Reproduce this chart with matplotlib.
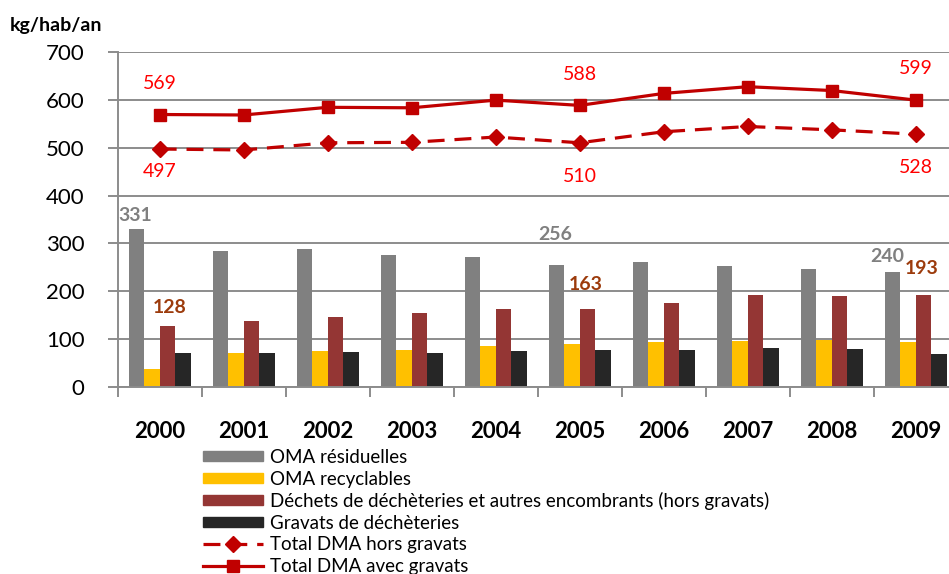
import matplotlib
matplotlib.use("Agg")
import matplotlib.pyplot as plt
from matplotlib.patches import Patch
from matplotlib.lines import Line2D
import numpy as np

plt.rcParams['font.family'] = ['Lato', 'DejaVu Sans']

# data
years = ['2000', '2001', '2002', '2003', '2004', '2005', '2006', '2007', '2008', '2009']
oma_residuelles = [331, 284, 288, 276, 271, 256, 261, 253, 246, 240]
oma_recyclables = [38, 71, 76, 78, 86, 90, 94, 96, 98, 94]
dechets_decheteries = [128, 138, 146, 155, 163, 163, 175, 192, 190, 193]
gravats = [71, 71, 73, 71, 76, 78, 78, 82, 80, 70]
total_hors_gravats = [497, 495, 510, 511, 522, 510, 533, 544, 537, 528]
total_avec_gravats = [569, 568, 584, 583, 599, 588, 613, 627, 619, 599]

bar_names = ['OMA résiduelles', 'OMA recyclables',
             'Déchets de déchèteries et autres encombrants (hors gravats)',
             'Gravats de déchèteries']
bar_colors = ['#808080', '#FFC000', '#943634', '#262626']
line_color = '#C00000'
grid_color = '#8C8C8C'
dash = (0, (5.3, 3.1))


def main():
    fig = plt.figure(figsize=(9.49, 5.74), dpi=100)
    # plot area is cut off on the right in the reference
    ax = fig.add_axes([117.7 / 949, 1 - 387.3 / 574, 840 / 949, 335.6 / 574])

    x = np.arange(len(years))
    w = 0.185
    series = [oma_residuelles, oma_recyclables, dechets_decheteries, gravats]
    for i, vals in enumerate(series):
        ax.bar(x + (i - 1.5) * w, vals, w, color=bar_colors[i], zorder=2)

    ax.plot(x, total_hors_gravats, color=line_color, lw=2.3, ls=dash,
            marker='D', markersize=8, zorder=3)
    ax.plot(x, total_avec_gravats, color=line_color, lw=2.3,
            marker='s', markersize=9, zorder=3)

    # labels on the lines (only some years are labelled)
    for idx in [0, 5, 9]:
        ax.annotate(str(total_avec_gravats[idx]), (x[idx], total_avec_gravats[idx]),
                    xytext=(0, 22.5), textcoords='offset points', ha='center', va='center',
                    color='#FF0000', fontsize=14)
    for idx, off in zip([0, 5, 9], [-16.5, -24.5, -24]):
        ax.annotate(str(total_hors_gravats[idx]), (x[idx], total_hors_gravats[idx]),
                    xytext=(0, off), textcoords='offset points', ha='center', va='center',
                    color='#FF0000', fontsize=14)

    # labels on some bars
    for idx, dx, dy in [(0, -1, 9.5), (5, -1, 22), (9, -4, 11)]:
        ax.annotate(str(oma_residuelles[idx]), (x[idx] - 1.5 * w, oma_residuelles[idx]),
                    xytext=(dx, dy), textcoords='offset points', ha='center', va='center',
                    color='#808080', fontsize=14, fontweight='bold')
    for idx, dx, dy in [(0, 1.5, 13), (5, -1.5, 17.5), (9, -1.5, 19)]:
        ax.annotate(str(dechets_decheteries[idx]), (x[idx] + 0.5 * w, dechets_decheteries[idx]),
                    xytext=(dx, dy), textcoords='offset points', ha='center', va='center',
                    color='#9C3B0C', fontsize=14, fontweight='bold')

    ax.set_xlim(-0.5, len(years) - 0.5)
    ax.set_ylim(0, 700)
    ax.set_yticks(range(0, 701, 100))
    ax.yaxis.grid(True, color=grid_color, lw=1.4, zorder=0)
    ax.set_axisbelow(True)

    ax.set_xticks(x)
    ax.set_xticklabels(years, fontsize=16, fontweight='bold')
    ax.set_xticks(np.arange(-0.5, len(years), 1), minor=True)
    ax.tick_params(axis='x', which='major', length=0, pad=24)
    ax.tick_params(axis='x', which='minor', length=7, width=1.4, color=grid_color, direction='out')
    ax.tick_params(axis='y', length=7, width=1.4, color=grid_color, labelsize=16, pad=17)

    for s in ['top', 'right']:
        ax.spines[s].set_visible(False)
    for s in ['left', 'bottom']:
        ax.spines[s].set_color(grid_color)
        ax.spines[s].set_linewidth(1.4)

    fig.text(10 / 949, 1 - 25 / 574, 'kg/hab/an', fontsize=14, fontweight='bold',
             ha='left', va='center')

    handles = [Patch(color=c) for c in bar_colors]
    handles.append(Line2D([], [], color=line_color, lw=2.3, ls=dash,
                          marker='D', markersize=8))
    handles.append(Line2D([], [], color=line_color, lw=2.3, marker='s', markersize=9))
    labels = bar_names + ['Total DMA hors gravats', 'Total DMA avec gravats']
    fig.legend(handles, labels, loc='upper left', bbox_to_anchor=(203 / 949, 1 - 449 / 574),
               frameon=False, fontsize=13.5, handlelength=3.2, handleheight=0.45,
               handletextpad=0.37, labelspacing=0.24, borderpad=0, borderaxespad=0)

    fig.savefig('out.png', dpi=100)


if __name__ == "__main__":
    main()
